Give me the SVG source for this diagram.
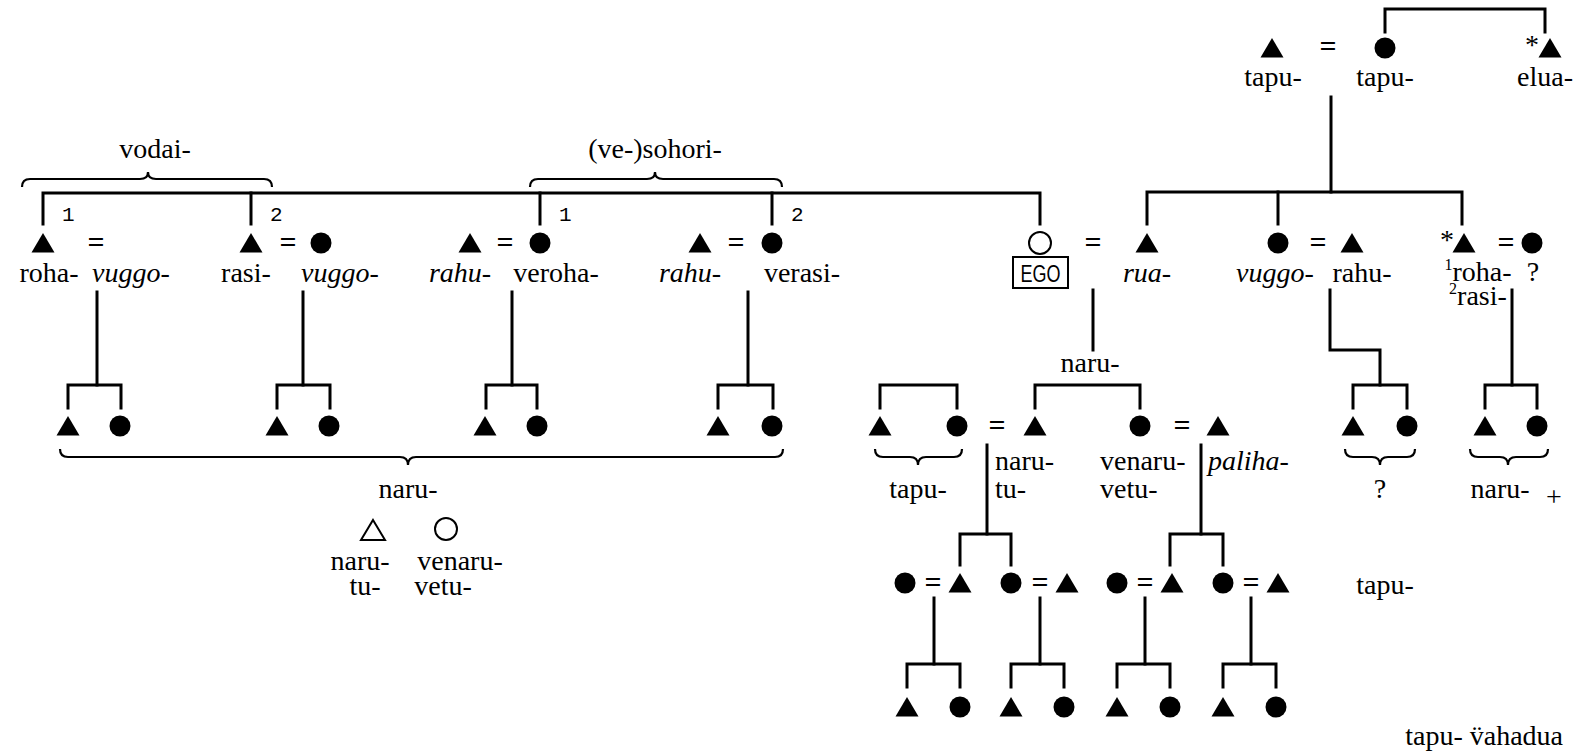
<svg xmlns="http://www.w3.org/2000/svg" xmlns:xlink="http://www.w3.org/1999/xlink" width="1573" height="755" viewBox="0 0 1573 755" font-family="Liberation Serif, Times New Roman, DejaVu Serif, serif">
<style>
.ln{stroke:#000;stroke-width:3;fill:none;stroke-linecap:square}
.br{stroke:#000;stroke-width:2.2;fill:none}
.t{font-size:28px;text-anchor:middle;fill:#000}
.i{font-style:italic}
.eq{font-size:30px;font-weight:bold;text-anchor:middle;fill:#000}
.num{font-size:21px;fill:#000}
.ego{font-size:23px;text-anchor:middle;fill:#000}
.open{fill:none;stroke:#000;stroke-width:2}
</style>
<defs>
<path id="tri" d="M0,-10 L11.5,9.5 L-11.5,9.5 Z" fill="#000"/>
<circle id="dot" r="10.5" fill="#000"/>
</defs>
<rect width="1573" height="755" fill="#fff"/>

<g id="connectors">
<path class="ln" d="M1385,32 V9 H1545 V32"/>
<path class="ln" d="M1331,97 V192"/>
<path class="ln" d="M1147,224 V192 H1462 V224"/>
<path class="ln" d="M1278,192 V224"/>
<path class="ln" d="M43,224 V193 H1040 V224"/>
<path class="ln" d="M251,193 V224"/>
<path class="ln" d="M540,193 V224"/>
<path class="ln" d="M772,193 V224"/>
<path class="ln" d="M97,292 V385"/><path class="ln" d="M68,408 V385 H121 V408"/>
<path class="ln" d="M303,292 V385"/><path class="ln" d="M277,408 V385 H330 V408"/>
<path class="ln" d="M512,292 V385"/><path class="ln" d="M486,408 V385 H537 V408"/>
<path class="ln" d="M748,292 V385"/><path class="ln" d="M718,408 V385 H773 V408"/>
<path class="ln" d="M880,408 V385 H957 V408"/>
<path class="ln" d="M1093,290 V350"/>
<path class="ln" d="M1035,408 V385 H1140 V408"/>
<path class="ln" d="M1330,290 V350 H1380 V385"/>
<path class="ln" d="M1353,408 V385 H1407 V408"/>
<path class="ln" d="M1512,290 V385"/>
<path class="ln" d="M1485,408 V385 H1537 V408"/>
<path class="ln" d="M987,445 V534"/>
<path class="ln" d="M960,565 V534 H1011 V565"/>
<path class="ln" d="M1201,445 V534"/>
<path class="ln" d="M1170,565 V534 H1223 V565"/>
<path class="ln" d="M934,598 V664"/><path class="ln" d="M907,687 V664 H960 V687"/>
<path class="ln" d="M1040,598 V664"/><path class="ln" d="M1011,687 V664 H1064 V687"/>
<path class="ln" d="M1145,598 V664"/><path class="ln" d="M1117,687 V664 H1170 V687"/>
<path class="ln" d="M1251,598 V664"/><path class="ln" d="M1223,687 V664 H1276 V687"/>
<path class="br" d="M22,187 Q22,179 30,179 H140 Q148,179 148,172 Q148,179 156,179 H264 Q272,179 272,187"/>
<path class="br" d="M530,187 Q530,179 538,179 H647 Q655,179 655,172 Q655,179 663,179 H774 Q782,179 782,187"/>
<path class="br" d="M60,449 Q60,457 68,457 H400 Q408,457 408,465 Q408,457 416,457 H775 Q783,457 783,449"/>
<path class="br" d="M875,449 Q875,457 883,457 H910 Q918,457 918,465 Q918,457 926,457 H954 Q962,457 962,449"/>
<path class="br" d="M1345,449 Q1345,457 1353,457 H1372 Q1380,457 1380,465 Q1380,457 1388,457 H1407 Q1415,457 1415,449"/>
<path class="br" d="M1470,449 Q1470,457 1478,457 H1500 Q1508,457 1508,465 Q1508,457 1516,457 H1540 Q1548,457 1548,449"/>
</g>

<g id="n-tapu-m"><use xlink:href="#tri" x="1272" y="48"/><text class="t" x="1273" y="86">tapu-</text></g>
<g id="m-top"><text class="eq" x="1328" y="56">=</text></g>
<g id="n-tapu-f"><use xlink:href="#dot" x="1385" y="48"/><text class="t" x="1385" y="86">tapu-</text></g>
<g id="n-elua"><text class="t" x="1532" y="54">*</text><use xlink:href="#tri" x="1550" y="48"/><text class="t" x="1545" y="86">elua-</text></g>

<text class="t" x="155" y="158">vodai-</text>
<text class="t" x="655" y="158">(ve-)sohori-</text>

<g id="n-roha"><use xlink:href="#tri" x="43" y="243"/><text class="num" x="62" y="221" font-family="Liberation Mono, DejaVu Sans Mono, monospace">1</text><text class="eq" x="96" y="252">=</text><text class="t" x="49" y="282">roha-</text><text class="t i" x="131" y="282">vuggo-</text></g>
<g id="n-rasi"><use xlink:href="#tri" x="251" y="243"/><text class="num" x="270" y="221" font-family="Liberation Mono, DejaVu Sans Mono, monospace">2</text><text class="eq" x="288" y="252">=</text><use xlink:href="#dot" x="321" y="243"/><text class="t" x="246" y="282">rasi-</text><text class="t i" x="340" y="282">vuggo-</text></g>
<g id="n-veroha"><use xlink:href="#tri" x="470" y="243"/><text class="eq" x="505" y="252">=</text><use xlink:href="#dot" x="540" y="243"/><text class="num" x="559" y="221" font-family="Liberation Mono, DejaVu Sans Mono, monospace">1</text><text class="t i" x="460" y="282">rahu-</text><text class="t" x="556" y="282">veroha-</text></g>
<g id="n-verasi"><use xlink:href="#tri" x="700" y="243"/><text class="eq" x="736" y="252">=</text><use xlink:href="#dot" x="772" y="243"/><text class="num" x="791" y="221" font-family="Liberation Mono, DejaVu Sans Mono, monospace">2</text><text class="t i" x="690" y="282">rahu-</text><text class="t" x="802" y="282">verasi-</text></g>

<g id="c1"><use xlink:href="#tri" x="68" y="426"/><use xlink:href="#dot" x="120" y="426"/></g>
<g id="c2"><use xlink:href="#tri" x="277" y="426"/><use xlink:href="#dot" x="329" y="426"/></g>
<g id="c3"><use xlink:href="#tri" x="485" y="426"/><use xlink:href="#dot" x="537" y="426"/></g>
<g id="c4"><use xlink:href="#tri" x="718" y="426"/><use xlink:href="#dot" x="772" y="426"/></g>
<g id="naru-left"><text class="t" x="408" y="498">naru-</text>
<path d="M373,520 L385,540 L361,540 Z" class="open"/>
<circle cx="446" cy="529" r="11" class="open"/>
<text class="t" x="360" y="570">naru-</text><text class="t" x="460" y="570">venaru-</text>
<text class="t" x="365" y="595">tu-</text><text class="t" x="443" y="595">vetu-</text></g>

<g id="n-ego"><circle cx="1040" cy="243" r="11" class="open"/><rect x="1013" y="257" width="55" height="31" class="open"/><text class="ego" x="1040.5" y="282" textLength="40" lengthAdjust="spacingAndGlyphs" font-family="Liberation Sans, Arial, sans-serif">EGO</text></g>
<g id="m-ego"><text class="eq" x="1093" y="252">=</text></g>
<g id="n-rua"><use xlink:href="#tri" x="1147" y="243"/><text class="t i" x="1147" y="282">rua-</text></g>
<g id="n-vuggo"><use xlink:href="#dot" x="1278" y="243"/><text class="eq" x="1318" y="252">=</text><text class="t i" x="1275" y="282">vuggo-</text></g>
<g id="n-rahu"><use xlink:href="#tri" x="1352" y="243"/><text class="t" x="1362" y="282">rahu-</text></g>
<g id="n-roha-rasi"><text class="t" x="1447" y="249">*</text><use xlink:href="#tri" x="1464" y="243"/><text class="eq" x="1506" y="252">=</text><use xlink:href="#dot" x="1532" y="243"/>
<text class="t" x="1478" y="281"><tspan font-size="16" dy="-11">1</tspan><tspan dy="11">roha-</tspan></text>
<text class="t" x="1478" y="305"><tspan font-size="16" dy="-11">2</tspan><tspan dy="11">rasi-</tspan></text>
<text class="t" x="1533" y="281">?</text></g>

<text class="t" x="1090" y="372">naru-</text>
<g id="sib-tapu"><use xlink:href="#tri" x="880" y="426"/><use xlink:href="#dot" x="957" y="426"/><text class="t" x="918" y="498">tapu-</text></g>
<text class="eq" x="997" y="435">=</text>
<g id="n-narutu"><use xlink:href="#tri" x="1035" y="426"/><text class="t" x="995" y="470" style="text-anchor:start">naru-</text><text class="t" x="995" y="498" style="text-anchor:start">tu-</text></g>
<g id="n-venaru"><use xlink:href="#dot" x="1140" y="426"/><text class="t" x="1100" y="470" style="text-anchor:start">venaru-</text><text class="t" x="1100" y="498" style="text-anchor:start">vetu-</text></g>
<text class="eq" x="1182" y="435">=</text>
<g id="n-paliha"><use xlink:href="#tri" x="1218" y="426"/><text class="t i" x="1208" y="470" style="text-anchor:start">paliha-</text></g>
<g id="c-q"><use xlink:href="#tri" x="1353" y="426"/><use xlink:href="#dot" x="1407" y="426"/><text class="t" x="1380" y="498">?</text></g>
<g id="c-naru"><use xlink:href="#tri" x="1485" y="426"/><use xlink:href="#dot" x="1537" y="426"/><text class="t" x="1500" y="498">naru-</text><text class="t" x="1554" y="506" font-size="18">+</text></g>

<g id="g1"><use xlink:href="#dot" x="905" y="583"/><text class="eq" x="933" y="592">=</text><use xlink:href="#tri" x="960" y="583"/></g>
<g id="g2"><use xlink:href="#dot" x="1011" y="583"/><text class="eq" x="1040" y="592">=</text><use xlink:href="#tri" x="1067" y="583"/></g>
<g id="g3"><use xlink:href="#dot" x="1117" y="583"/><text class="eq" x="1145" y="592">=</text><use xlink:href="#tri" x="1172" y="583"/></g>
<g id="g4"><use xlink:href="#dot" x="1223" y="583"/><text class="eq" x="1251" y="592">=</text><use xlink:href="#tri" x="1278" y="583"/></g>
<text class="t" x="1385" y="594">tapu-</text>

<g id="b1"><use xlink:href="#tri" x="907" y="707"/><use xlink:href="#dot" x="960" y="707"/></g>
<g id="b2"><use xlink:href="#tri" x="1011" y="707"/><use xlink:href="#dot" x="1064" y="707"/></g>
<g id="b3"><use xlink:href="#tri" x="1117" y="707"/><use xlink:href="#dot" x="1170" y="707"/></g>
<g id="b4"><use xlink:href="#tri" x="1223" y="707"/><use xlink:href="#dot" x="1276" y="707"/></g>
<text class="t" x="1563" y="745" style="text-anchor:end">tapu- v̈ahadua</text>
</svg>
